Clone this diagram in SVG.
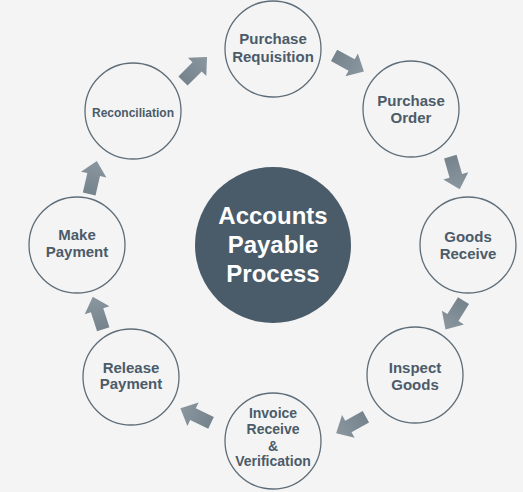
<svg xmlns="http://www.w3.org/2000/svg" width="523" height="492" viewBox="0 0 523 492">
<defs>
<style>
.node{fill:#f4f4f4;stroke:#5f6d78;stroke-width:1.3}
.lbl{font-family:"Liberation Sans",Arial,sans-serif;font-weight:bold;fill:#4b5b69;text-anchor:middle;font-size:15px}
.ctr{font-family:"Liberation Sans",Arial,sans-serif;font-weight:bold;fill:#ffffff;text-anchor:middle;font-size:24px}
.arr{fill:url(#ag)}
</style>
<linearGradient id="ag" x1="0" y1="0" x2="1" y2="0">
<stop offset="0" stop-color="#75838d"/>
<stop offset="1" stop-color="#8b979f"/>
</linearGradient>
<path id="ar" d="M-17,-6.5 L3,-6.5 L3,-13 L17,0 L3,13 L3,6.5 L-17,6.5 Z"/>
</defs>
<rect width="523" height="492" fill="#f4f4f4"/>
<g id="connectors">
<use href="#ar" class="arr" transform="translate(195,69) rotate(-45)"/>
<use href="#ar" class="arr" transform="translate(349,63.5) rotate(28.5)"/>
<use href="#ar" class="arr" transform="translate(455,173) rotate(74)"/>
<use href="#ar" class="arr" transform="translate(454.5,315) rotate(122)"/>
<use href="#ar" class="arr" transform="translate(351,425) rotate(151)"/>
<use href="#ar" class="arr" transform="translate(195.7,415.5) rotate(205.6)"/>
<use href="#ar" class="arr" transform="translate(98,313) rotate(252)"/>
<use href="#ar" class="arr" transform="translate(93,177.5) rotate(283)"/>
</g>
<g id="center">
<circle cx="273" cy="245" r="78" fill="#4a5b69"/>
<text class="ctr" x="273" y="224">Accounts</text>
<text class="ctr" x="273" y="253">Payable</text>
<text class="ctr" x="273" y="282">Process</text>
</g>
<g id="purchase-requisition">
<circle class="node" cx="273" cy="49" r="48"/>
<text class="lbl" x="273" y="44">Purchase</text>
<text class="lbl" x="273" y="61.5">Requisition</text>
</g>
<g id="purchase-order">
<circle class="node" cx="411" cy="109" r="48"/>
<text class="lbl" x="411" y="105.5">Purchase</text>
<text class="lbl" x="411" y="123">Order</text>
</g>
<g id="goods-receive">
<circle class="node" cx="468" cy="245" r="48"/>
<text class="lbl" x="468" y="242">Goods</text>
<text class="lbl" x="468" y="259">Receive</text>
</g>
<g id="inspect-goods">
<circle class="node" cx="415" cy="375" r="48"/>
<text class="lbl" x="415" y="373">Inspect</text>
<text class="lbl" x="415" y="390">Goods</text>
</g>
<g id="invoice-receive">
<circle class="node" cx="273" cy="441" r="48"/>
<text class="lbl" x="273" y="418" style="font-size:14px">Invoice</text>
<text class="lbl" x="273" y="434" style="font-size:14px">Receive</text>
<text class="lbl" x="273" y="450.5" style="font-size:14px">&amp;</text>
<text class="lbl" x="273" y="466" style="font-size:14px">Verification</text>
</g>
<g id="release-payment">
<circle class="node" cx="131" cy="377" r="48"/>
<text class="lbl" x="131" y="372.5">Release</text>
<text class="lbl" x="131" y="389">Payment</text>
</g>
<g id="make-payment">
<circle class="node" cx="77" cy="245" r="48"/>
<text class="lbl" x="77" y="240">Make</text>
<text class="lbl" x="77" y="256.5">Payment</text>
</g>
<g id="reconciliation">
<circle class="node" cx="133" cy="111" r="48"/>
<text class="lbl" x="133" y="116.5" style="font-size:12px">Reconciliation</text>
</g>
</svg>
